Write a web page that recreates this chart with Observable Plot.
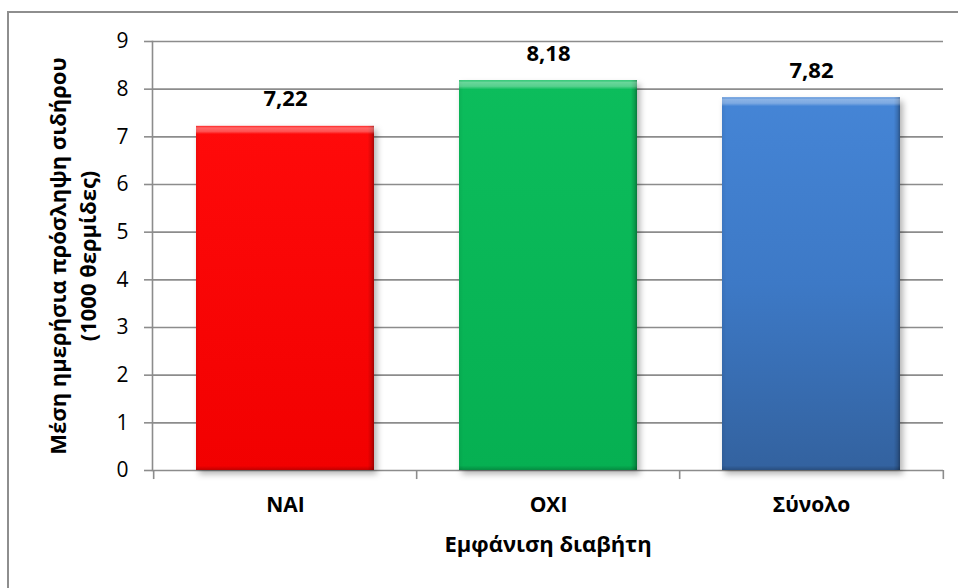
<!DOCTYPE html>
<html><head><meta charset="utf-8">
<script src="https://cdn.jsdelivr.net/npm/d3@7"></script>
<script src="https://cdn.jsdelivr.net/npm/@observablehq/plot@0.6"></script>
<style>
body{margin:0;background:#fff;}
#wrap{position:relative;width:958px;height:588px;overflow:hidden;background:#fff;}
#border{position:absolute;left:7px;top:11px;width:1000px;height:1000px;border:2px solid #8e8e8e;box-sizing:border-box;pointer-events:none;}
#chart{position:absolute;left:0;top:0;}
</style></head><body><div id="wrap"><div id="chart"></div><div id="border"></div></div>
<script>
const categories = ["ΝΑΙ", "ΟΧΙ", "Σύνολο"];
const values = [7.22, 8.18, 7.82];
const valueLabels = ["7,22", "8,18", "7,82"];
const yTicks = [0, 1, 2, 3, 4, 5, 6, 7, 8, 9];
const yTitle = "Μέση ημερήσια πρόσληψη σιδήρου\n(1000 θερμίδες)";
const xTitle = "Εμφάνιση διαβήτη";
const barGradients = ["url(#gRed)", "url(#gGreen)", "url(#gBlue)"];

const data = categories.map((c, i) => ({cat: c, value: values[i], label: valueLabels[i]}));

const W = 958, H = 588, mL = 152, mR = 15, mT = 41, mB = 118;
const step = (W - mL - mR) / categories.length;
const gray = "#8c8c8c";

const plot = Plot.plot({
  width: W, height: H,
  marginLeft: mL, marginRight: mR, marginTop: mT, marginBottom: mB,
  style: {fontFamily: "'Open Sans', 'Noto Sans', sans-serif", background: "transparent", color: "#000"},
  x: {domain: categories, paddingInner: 0.325, paddingOuter: 0.1625, axis: null},
  y: {domain: [0, 9], axis: null},
  color: {domain: categories, range: barGradients},
  marks: [
    Plot.gridY(yTicks, {stroke: gray, strokeOpacity: 1, strokeWidth: 1.6}),
    Plot.axisY(yTicks, {anchor: "left", tickSize: 8, tickPadding: 16, stroke: gray, strokeWidth: 1.6, tickFormat: () => "", label: null}),
    Plot.text(yTicks, {y: d => d, frameAnchor: "left", textAnchor: "end", lineAnchor: "middle", dx: -24, text: d => String(d), fontSize: 21, fill: "#000"}),
    Plot.frame({anchor: "left", stroke: gray, strokeWidth: 1.6}),
    Plot.ruleX(categories, {x: d => d, y1: 0, y2: -0.19, dx: -step / 2, stroke: gray, strokeWidth: 1.6}),
    Plot.ruleX(categories.slice(-1), {x: d => d, y1: 0, y2: -0.19, dx: step / 2, stroke: gray, strokeWidth: 1.6}),
    Plot.barY(data, {x: "cat", y: "value", fill: "cat"}),
    Plot.barY(data, {x: "cat", y: "value", fill: "url(#edge)"}),
    Plot.barY(data, {x: "cat", y: "value", fill: "url(#topHi)"}),
    Plot.text(data, {x: "cat", y: "value", text: "label", dy: -27, fontSize: 22, fontWeight: "bold", fill: "#000"}),
    Plot.axisX({anchor: "bottom", tickSize: 0, tickPadding: 27, fontSize: 21, fontWeight: "bold", label: null}),
    Plot.text([xTitle], {frameAnchor: "bottom", textAnchor: "middle", lineAnchor: "middle", dy: 74, fontSize: 22, fontWeight: "bold", fill: "#000"}),
    Plot.text([yTitle], {frameAnchor: "left", textAnchor: "middle", lineAnchor: "middle", dx: -81.5, rotate: -90, fontSize: 22, fontWeight: "bold", lineHeight: 1.36, fill: "#000"})
  ]
});

const svg = d3.select(plot);
const defs = svg.insert("defs", ":first-child");
function vgrad(id, stops) {
  const g = defs.append("linearGradient").attr("id", id).attr("x1", 0).attr("y1", 0).attr("x2", 0).attr("y2", 1);
  stops.forEach(([o, c, a]) => g.append("stop").attr("offset", o).attr("stop-color", c).attr("stop-opacity", a == null ? 1 : a));
}
vgrad("gRed", [[0, "#ff0a0a"], [1, "#f20000"]]);
vgrad("gGreen", [[0, "#0cbd5c"], [1, "#06b052"]]);
vgrad("gBlue", [[0, "#4585d6"], [0.5, "#3d79c6"], [1, "#33629f"]]);
vgrad("topHi", [[0, "#ffffff", 0.1], [0.006, "#ffffff", 0.38], [0.016, "#ffffff", 0.3], [0.024, "#ffffff", 0], [0.988, "#000000", 0], [1, "#000000", 0.2]]);
const e = defs.append("linearGradient").attr("id", "edge").attr("x1", 0).attr("y1", 0).attr("x2", 1).attr("y2", 0);
[[0, "#000", 0.06], [0.025, "#000", 0], [0.965, "#000", 0], [0.985, "#000", 0.15], [1, "#000", 0.35]]
  .forEach(([o, c, a]) => e.append("stop").attr("offset", o).attr("stop-color", c).attr("stop-opacity", a));

const bars = svg.selectAll('g[aria-label="bar"]').nodes();
if (bars[0]) d3.select(bars[0]).style("filter", "drop-shadow(3px 4px 3px rgba(0,0,0,0.3))");

document.getElementById("chart").appendChild(plot);
</script>
</body></html>
